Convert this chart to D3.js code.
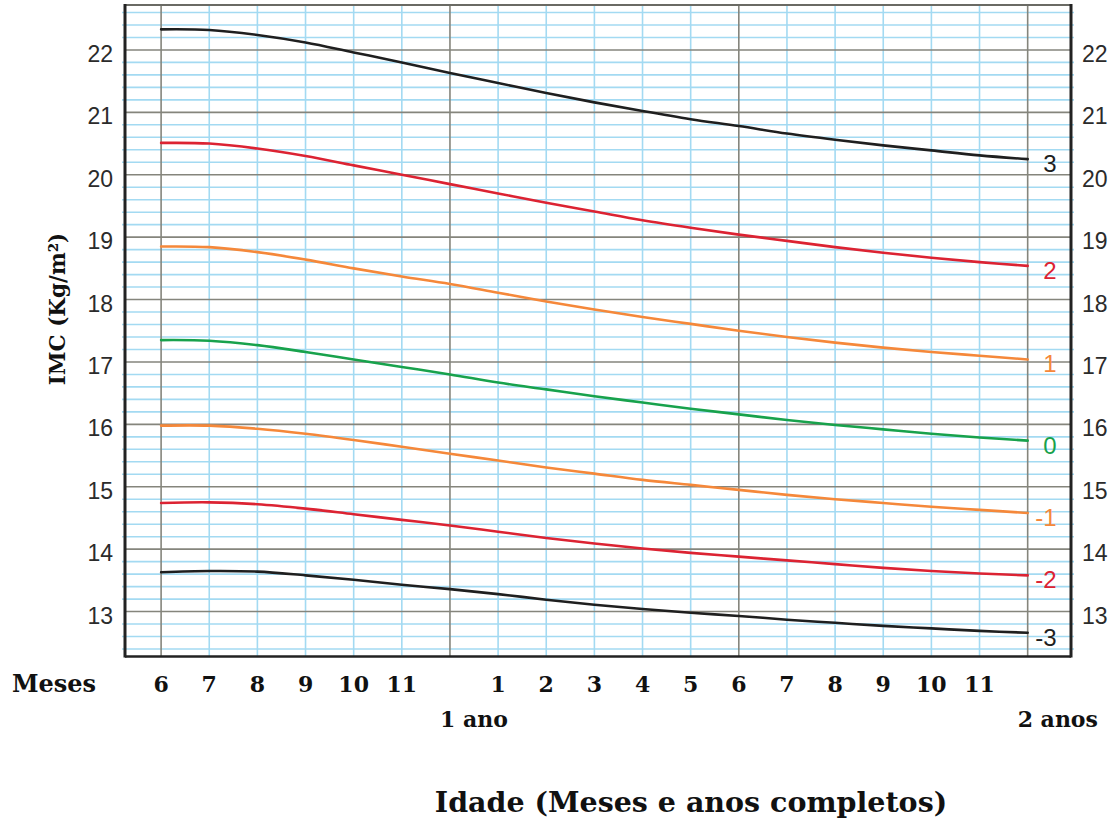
<!DOCTYPE html>
<html><head><meta charset="utf-8">
<script src="https://cdn.jsdelivr.net/npm/d3@7/dist/d3.min.js"></script>
<style>html,body{margin:0;padding:0;background:#fff;}svg{display:block;}</style>
</head><body>
<svg id="chart" width="1111" height="821"></svg>
<script>
// ---- data ----
const months = [6,7,8,9,10,11,12,13,14,15,16,17,18,19,20,21,22,23,24];
const monthLabels = ["6","7","8","9","10","11","","1","2","3","4","5","6","7","8","9","10","11",""];
const yearLabels = [{m:12, t:"1 ano"}, {m:24, t:"2 anos"}];
const yTicks = [13,14,15,16,17,18,19,20,21,22];
const zLabels = ["3","2","1","0","-1","-2","-3"];
const z3  = [22.33,22.32,22.24,22.12,21.96,21.80,21.63,21.47,21.31,21.16,21.02,20.89,20.78,20.66,20.56,20.47,20.39,20.31,20.25];
const z2  = [20.51,20.50,20.42,20.30,20.15,20.00,19.85,19.70,19.55,19.41,19.27,19.15,19.04,18.94,18.84,18.75,18.67,18.60,18.54];
const z1  = [18.85,18.84,18.76,18.64,18.50,18.37,18.25,18.11,17.97,17.84,17.72,17.61,17.50,17.40,17.31,17.23,17.16,17.10,17.04];
const z0  = [17.35,17.34,17.27,17.16,17.04,16.92,16.80,16.67,16.56,16.45,16.35,16.25,16.16,16.07,15.99,15.92,15.85,15.79,15.74];
const zm1 = [15.98,15.98,15.93,15.85,15.75,15.64,15.53,15.42,15.31,15.21,15.11,15.03,14.95,14.87,14.80,14.74,14.68,14.63,14.58];
const zm2 = [14.74,14.75,14.72,14.65,14.56,14.47,14.38,14.28,14.18,14.09,14.01,13.94,13.88,13.82,13.76,13.70,13.65,13.61,13.58];
const zm3 = [13.63,13.65,13.64,13.58,13.51,13.43,13.36,13.28,13.19,13.11,13.04,12.98,12.93,12.87,12.82,12.77,12.73,12.69,12.66];
const seriesValues = [z3, z2, z1, z0, zm1, zm2, zm3];
const seriesColors = ["#1f1f1f","#dc2332","#f5883a","#18a24c","#f5883a","#dc2332","#1f1f1f"];

// ---- layout ----
const svg = d3.select("#chart");
const L = 125, R = 1071, T = 5, B = 656.5;
const x = d3.scaleLinear().domain([5.25, 24.9]).range([L, R]);
const y = d3.scaleLinear().domain([12.28, 22.72]).range([B, T]);

const blue = "#a3daf2", dark = "#85857c";

// minor horizontal grid (0.2 steps)
const minorY = d3.range(124, 228, 2).map(v => v/10).filter(v => Math.abs(v - Math.round(v)) > 1e-6);
svg.append("g").selectAll("line").data(minorY).join("line")
  .attr("x1", L - 3).attr("x2", R + 3)
  .attr("y1", d => y(d)).attr("y2", d => y(d))
  .attr("stroke", blue).attr("stroke-width", 1.6);

// vertical grid (blue)
svg.append("g").selectAll("line").data(months.filter(d => d % 6 !== 0)).join("line")
  .attr("x1", d => x(d)).attr("x2", d => x(d))
  .attr("y1", T).attr("y2", B)
  .attr("stroke", blue).attr("stroke-width", 1.6);
// dark verticals
svg.append("g").selectAll("line").data(months.filter(d => d % 6 === 0)).join("line")
  .attr("x1", d => x(d)).attr("x2", d => x(d))
  .attr("y1", T).attr("y2", B)
  .attr("stroke", dark).attr("stroke-width", 1.6);

// major horizontal grid
svg.append("g").selectAll("line").data(yTicks).join("line")
  .attr("x1", L).attr("x2", R)
  .attr("y1", d => y(d)).attr("y2", d => y(d))
  .attr("stroke", dark).attr("stroke-width", 1.6);

// frame
svg.append("line").attr("x1", L).attr("x2", R).attr("y1", T).attr("y2", T).attr("stroke", "#6a6a64").attr("stroke-width", 2);
svg.append("line").attr("x1", L).attr("x2", R).attr("y1", B).attr("y2", B).attr("stroke", "#222").attr("stroke-width", 2.5);
svg.append("line").attr("x1", L).attr("x2", L).attr("y1", T - 1).attr("y2", B + 1).attr("stroke", "#222").attr("stroke-width", 3);
svg.append("line").attr("x1", R).attr("x2", R).attr("y1", T - 1).attr("y2", B + 1).attr("stroke", "#222").attr("stroke-width", 3);

// curves
const line = d3.line().x((d, i) => x(months[i])).y(d => y(d)).curve(d3.curveCatmullRom.alpha(0.5));
svg.append("g").selectAll("path").data(seriesValues).join("path")
  .attr("d", d => line(d))
  .attr("fill", "none")
  .attr("stroke", (d, i) => seriesColors[i])
  .attr("stroke-width", 2.6)
  .attr("stroke-linecap", "round");

// curve labels
svg.append("g").selectAll("text").data(seriesValues).join("text")
  .attr("x", x(24) + 29)
  .attr("y", d => y(d[d.length - 1]) + 13)
  .attr("text-anchor", "end")
  .attr("font-family", "Liberation Sans, Arial, sans-serif")
  .attr("font-size", 24)
  .attr("fill", (d, i) => seriesColors[i])
  .text((d, i) => zLabels[i]);

// y tick labels left / right
const tickFont = "Liberation Sans, Arial, sans-serif";
svg.append("g").selectAll("text").data(yTicks).join("text")
  .attr("x", 113).attr("y", d => y(d) + 12)
  .attr("text-anchor", "end")
  .attr("font-family", tickFont).attr("font-size", 23).attr("fill", "#2b2b2b")
  .text(d => d);
svg.append("g").selectAll("text").data(yTicks).join("text")
  .attr("x", 1082).attr("y", d => y(d) + 12)
  .attr("text-anchor", "start")
  .attr("font-family", tickFont).attr("font-size", 23).attr("fill", "#2b2b2b")
  .text(d => d);

// x labels
const serif = "DejaVu Serif, serif";
svg.append("text").attr("x", 12).attr("y", 692)
  .attr("font-family", serif).attr("font-weight", "bold").attr("font-size", 24).attr("fill", "#111")
  .text("Meses");
svg.append("g").selectAll("text").data(months).join("text")
  .attr("x", d => x(d)).attr("y", 692)
  .attr("text-anchor", "middle")
  .attr("font-family", serif).attr("font-weight", "bold").attr("font-size", 22).attr("fill", "#111")
  .text((d, i) => monthLabels[i]);
svg.append("g").selectAll("text").data(yearLabels).join("text")
  .attr("x", d => x(d.m) - 10).attr("y", 727)
  .attr("font-family", serif).attr("font-weight", "bold").attr("font-size", 22).attr("fill", "#111")
  .text(d => d.t);

// axis titles
svg.append("text").attr("x", 691).attr("y", 812)
  .attr("text-anchor", "middle")
  .attr("font-family", serif).attr("font-weight", "bold").attr("font-size", 28.5).attr("fill", "#111")
  .text("Idade (Meses e anos completos)");
svg.append("text")
  .attr("transform", "translate(65,309) rotate(-90)")
  .attr("text-anchor", "middle")
  .attr("font-family", serif).attr("font-weight", "bold").attr("font-size", 21.5).attr("fill", "#111")
  .text("IMC (Kg/m²)");
</script>
</body></html>
